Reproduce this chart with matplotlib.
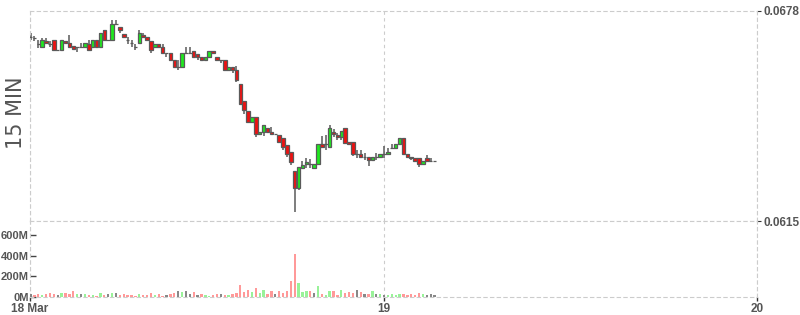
import matplotlib
matplotlib.use('Agg')
import matplotlib.pyplot as plt
import matplotlib.dates as mdates
import numpy as np
import pandas as pd

# 15 min candles, prices x 1e-5
open_ = [6702, 6699, 6681, 6672, 6690, 6681, 6693, 6663, 6663, 6690, 6684, 6675, 6672, 6672, 6672,
         6681, 6672, 6693, 6672, 6723, 6693, 6693, 6741, 6732, 6711, 6693, 6684, 6672, 6684, 6708,
         6702, 6690, 6672, 6681, 6672, 6654, 6654, 6633, 6612, 6612, 6654, 6654, 6660, 6651, 6642,
         6633, 6642, 6660, 6642, 6633, 6633, 6603, 6612, 6603, 6561, 6510, 6480, 6447, 6462, 6411,
         6417, 6429, 6417, 6411, 6408, 6399, 6378, 6357, 6300, 6249, 6309, 6321, 6321, 6309, 6321,
         6381, 6381, 6372, 6417, 6408, 6402, 6429, 6387, 6387, 6351, 6351, 6342, 6342, 6333, 6342,
         6342, 6351, 6351, 6369, 6369, 6381, 6399, 6351, 6342, 6339, 6339, 6321, 6339, 6330, 6330]
close = [6702, 6699, 6681, 6693, 6684, 6681, 6663, 6663, 6693, 6684, 6672, 6666, 6672, 6672, 6684,
         6663, 6693, 6672, 6714, 6693, 6693, 6741, 6741, 6723, 6702, 6693, 6684, 6672, 6714, 6702,
         6693, 6663, 6681, 6672, 6654, 6654, 6633, 6612, 6612, 6654, 6654, 6654, 6642, 6642, 6633,
         6642, 6660, 6654, 6633, 6633, 6603, 6612, 6603, 6573, 6501, 6483, 6447, 6462, 6411, 6417,
         6438, 6417, 6411, 6411, 6387, 6372, 6351, 6327, 6249, 6312, 6318, 6327, 6321, 6321, 6381,
         6372, 6381, 6429, 6411, 6402, 6420, 6384, 6381, 6351, 6351, 6342, 6342, 6333, 6342, 6342,
         6351, 6351, 6357, 6369, 6381, 6399, 6351, 6342, 6339, 6330, 6321, 6330, 6330, 6330, 6330]
high = [6714, 6705, 6693, 6699, 6699, 6690, 6693, 6663, 6693, 6690, 6708, 6675, 6672, 6684, 6684,
        6693, 6693, 6693, 6714, 6723, 6693, 6753, 6753, 6732, 6711, 6702, 6693, 6681, 6723, 6714,
        6702, 6690, 6681, 6681, 6681, 6654, 6654, 6633, 6633, 6654, 6672, 6672, 6660, 6651, 6642,
        6642, 6660, 6660, 6642, 6633, 6633, 6612, 6612, 6615, 6561, 6510, 6480, 6462, 6462, 6417,
        6438, 6429, 6432, 6411, 6408, 6399, 6378, 6357, 6300, 6312, 6330, 6339, 6336, 6321, 6381,
        6405, 6408, 6438, 6426, 6414, 6420, 6429, 6387, 6387, 6363, 6363, 6354, 6342, 6342, 6354,
        6351, 6375, 6369, 6381, 6381, 6399, 6399, 6351, 6342, 6339, 6339, 6330, 6348, 6339, 6330]
low = [6693, 6690, 6669, 6672, 6684, 6672, 6663, 6663, 6663, 6684, 6672, 6666, 6657, 6672, 6672,
       6663, 6672, 6672, 6672, 6693, 6693, 6693, 6741, 6714, 6702, 6681, 6672, 6663, 6684, 6702,
       6693, 6654, 6672, 6672, 6654, 6642, 6633, 6612, 6603, 6612, 6654, 6654, 6642, 6633, 6633,
       6633, 6642, 6654, 6633, 6624, 6603, 6603, 6594, 6567, 6501, 6471, 6447, 6447, 6402, 6411,
       6405, 6417, 6411, 6411, 6387, 6363, 6342, 6318, 6177, 6243, 6309, 6309, 6309, 6309, 6321,
       6372, 6363, 6372, 6402, 6393, 6393, 6384, 6381, 6345, 6339, 6342, 6333, 6315, 6333, 6333,
       6342, 6339, 6351, 6369, 6369, 6381, 6351, 6342, 6333, 6330, 6312, 6321, 6330, 6330, 6330]
# volume in millions
volume = [26, 16, 26, 16, 32, 39, 26, 16, 39, 39, 26, 55, 29, 29, 29,
          16, 16, 13, 39, 16, 29, 35, 35, 16, 29, 16, 16, 10, 29, 16,
          16, 39, 16, 29, 13, 16, 29, 39, 55, 45, 58, 26, 48, 16, 29,
          16, 10, 16, 29, 29, 16, 16, 29, 35, 113, 45, 64, 45, 84, 39,
          64, 26, 55, 26, 55, 39, 55, 151, 412, 132, 45, 55, 55, 35, 103,
          26, 16, 55, 55, 16, 64, 35, 45, 35, 64, 45, 26, 26, 55, 26,
          26, 16, 16, 26, 16, 26, 26, 16, 26, 16, 35, 26, 16, 26, 16]

price_ticks = [0.0615, 0.0678]
vol_ticks = [0, 200, 400, 600]
x_labels = ['18 Mar', '19', '20']

o = np.array(open_) / 1e5
c = np.array(close) / 1e5
h = np.maximum(np.array(high) / 1e5, np.maximum(o, c))
l = np.minimum(np.array(low) / 1e5, np.minimum(o, c))
v = np.array(volume) * 1e6

times = pd.date_range('2024-03-18 01:15', periods=len(c), freq='15min')
x = mdates.date2num(times)
w = 0.9 / 96

edge = '#5a5a5a'
grid_c = '#cccccc'
txt_c = '#555555'
tick_font = dict(family='Liberation Sans', weight='bold', size=8.5)
vol_font = dict(family='Liberation Sans', weight='bold', size=8)

fig = plt.figure(figsize=(8, 3.15), dpi=100)
ax = fig.add_axes([0.0375, 0.2984, 0.90875, 0.6667])
axv = fig.add_axes([0.0375, 0.0571, 0.90875, 0.2413], sharex=ax)

ax.vlines(x, l, h, color=edge, lw=1.1, zorder=2)
body_col = np.where(c >= o, '#1fe81f', '#ee1111')
ax.bar(x, np.abs(c - o), bottom=np.minimum(o, c), width=w, color=body_col,
       edgecolor=edge, linewidth=0.9, zorder=3)

prev = np.concatenate([[o[0]], c[:-1]])
vol_col = np.where(c > prev, '#99f299', np.where(c < prev, '#ff9999', '#888888'))
axv.bar(x, v, width=0.6 / 96, color=vol_col, zorder=3)

x0 = mdates.date2num(pd.Timestamp('2024-03-18 01:13'))
x19 = mdates.date2num(pd.Timestamp('2024-03-19'))
x20 = mdates.date2num(pd.Timestamp('2024-03-20'))
ax.set_xlim(x0, x20)
ax.set_ylim(0.0615, 0.0678)
axv.set_ylim(0, 735e6)

for a in (ax, axv):
    for sp in a.spines.values():
        sp.set_linestyle((0, (3, 3)))
        sp.set_color(grid_c)
        sp.set_linewidth(0.8)

axv.set_xticks([x0, x19, x20])
axv.set_xticklabels(x_labels, fontdict=tick_font)
axv.grid(axis='x', color=grid_c, linestyle=(0, (3, 3)), linewidth=0.8)
ax.grid(axis='x', color=grid_c, linestyle=(0, (3, 3)), linewidth=0.8)
ax.tick_params(axis='x', bottom=False, labelbottom=False)
axv.tick_params(axis='x', direction='out', length=3, width=1, color='#333333',
                labelcolor=txt_c, pad=1)

ax.yaxis.tick_right()
ax.set_yticks(price_ticks)
ax.set_yticklabels([f'{t:.4f}' for t in price_ticks], fontdict=tick_font)
ax.tick_params(axis='y', direction='out', length=3, color='#333333',
               labelcolor=txt_c, pad=2)

axv.set_yticks([t * 1e6 for t in vol_ticks])
axv.set_yticklabels([f'{t}M' for t in vol_ticks], fontdict=vol_font)
axv.tick_params(axis='y', direction='in', length=4, width=1, color='#444444',
                labelcolor=txt_c, pad=1)

fig.text(16 / 800, 1 - 113 / 315, '15 MIN', rotation=90, ha='center', va='center',
         fontsize=15, color='#555555')

fig.savefig('out.png', dpi=100)
